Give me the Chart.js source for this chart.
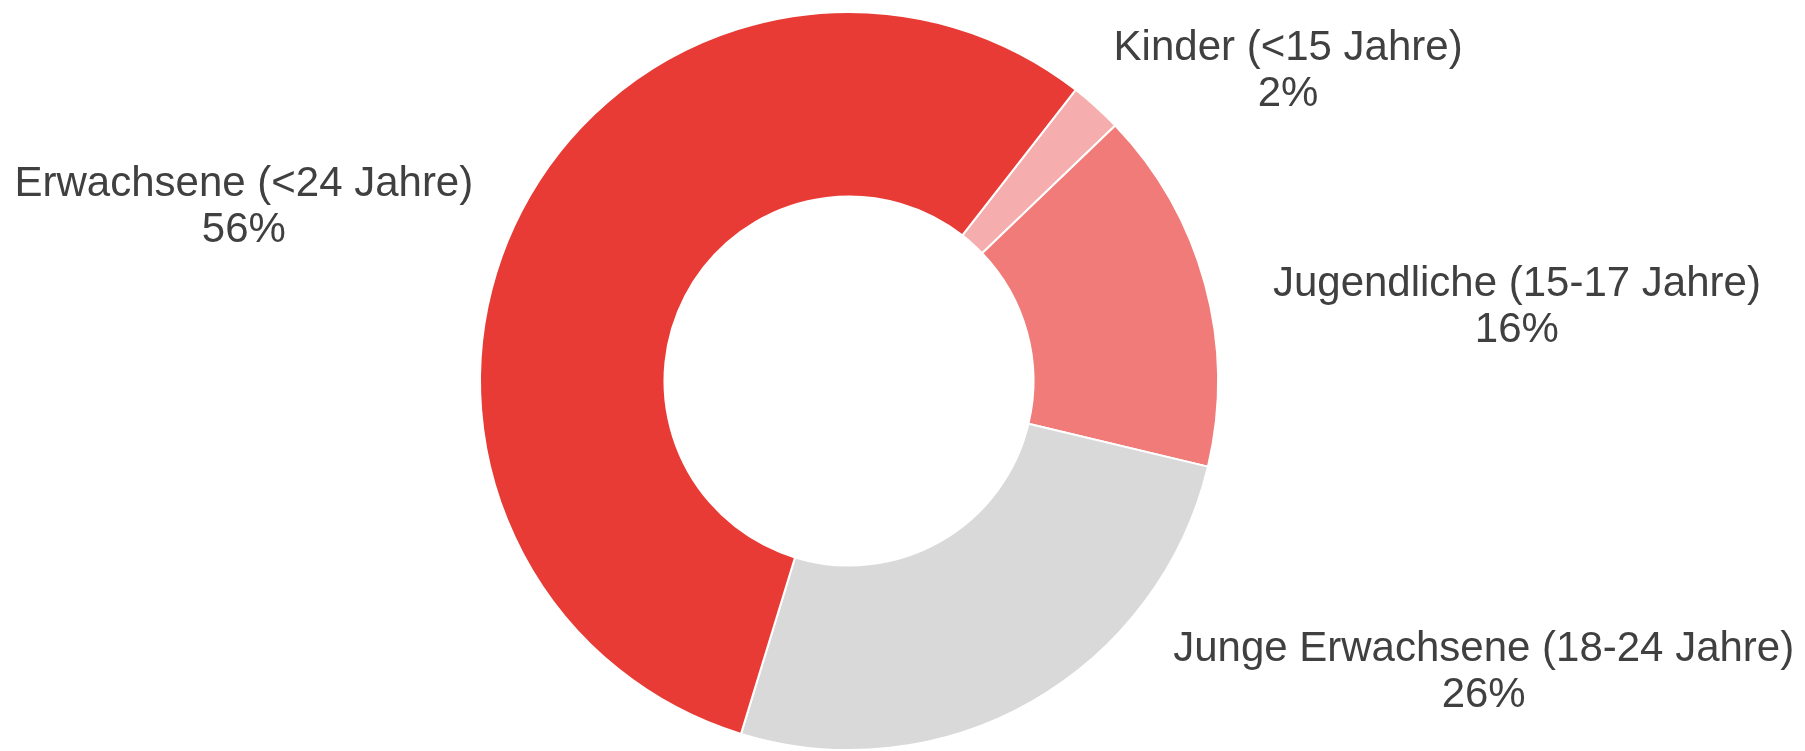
<!DOCTYPE html>
<html>
<head>
<meta charset="utf-8">
<script src="https://cdn.jsdelivr.net/npm/chart.js@4"></script>
<style>
  html, body { margin: 0; padding: 0; background: #fff; }
  #wrap { width: 1805px; height: 751px; }
</style>
</head>
<body>
<div id="wrap"><canvas id="ageChart"></canvas></div>
<script>
// Altersgruppen und Anteile (in %)
const categories = ['Kinder (<15 Jahre)', 'Jugendliche (15-17 Jahre)', 'Junge Erwachsene (18-24 Jahre)', 'Erwachsene (<24 Jahre)'];
const shares = [2.3, 15.9, 26.0, 55.8];
const sliceColors = ['#F5AEAD', '#F07B78', '#D9D9D9', '#E83B35'];

// label placement relative to the doughnut centre, in units of the outer radius
const labelOffsets = [[1.19, -0.84], [1.81, -0.20], [1.72, 0.79], [-1.64, -0.47]];

const outsideLabels = {
    id: 'outsideLabels',
    afterDatasetsDraw(chart) {
        const ctx = chart.ctx;
        const meta = chart.getDatasetMeta(0);
        const total = shares.reduce((a, b) => a + b, 0);
        ctx.save();
        ctx.font = '42px "Liberation Sans", Arial, sans-serif';
        ctx.fillStyle = '#404040';
        ctx.textAlign = 'center';
        ctx.textBaseline = 'middle';
        meta.data.forEach((arc, i) => {
            const r = arc.outerRadius;
            const x = arc.x + labelOffsets[i][0] * r;
            const y = arc.y + labelOffsets[i][1] * r;
            const pct = Math.round(shares[i] / total * 100) + '%';
            ctx.fillText(categories[i], x, y - 23);
            ctx.fillText(pct, x, y + 23);
        });
        ctx.restore();
    }
};

document.addEventListener('DOMContentLoaded', function () {
    const ctx = document.getElementById('ageChart').getContext('2d');
    new Chart(ctx, {
        type: 'doughnut',
        data: {
            labels: categories,
            datasets: [{
                data: shares,
                backgroundColor: sliceColors,
                borderColor: '#ffffff',
                borderWidth: 2
            }]
        },
        options: {
            responsive: true,
            maintainAspectRatio: false,
            animation: false,
            rotation: 37.9,
            cutout: '50%',
            layout: { padding: { top: 11, bottom: 0, left: 0, right: 107 } },
            plugins: {
                legend: { display: false },
                tooltip: { enabled: false }
            }
        },
        plugins: [outsideLabels]
    });
});
</script>
</body>
</html>
